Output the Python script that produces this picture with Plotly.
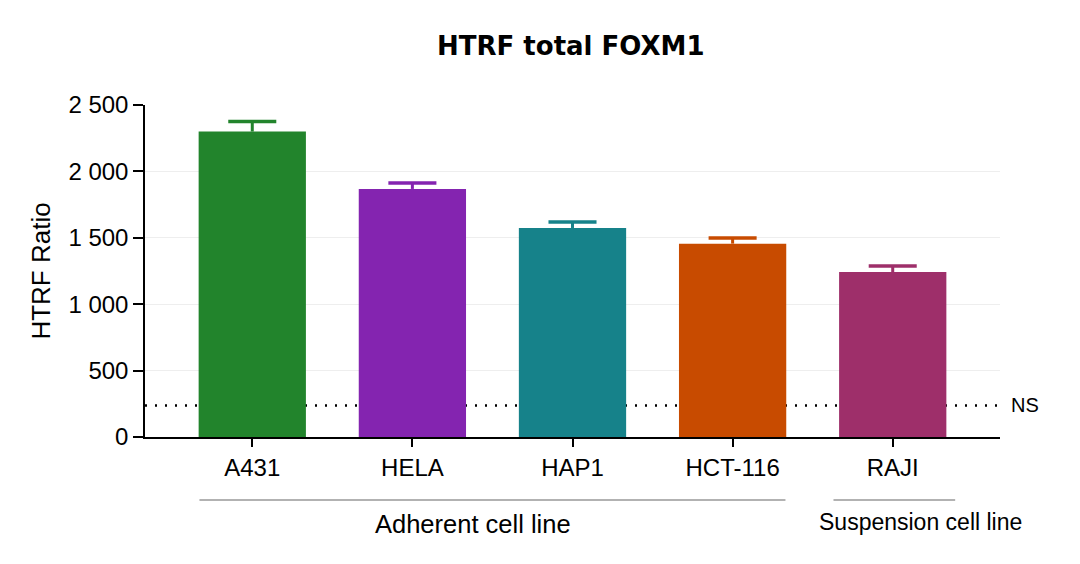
import plotly.graph_objects as go

cell_lines = ["A431", "HELA", "HAP1", "HCT-116", "RAJI"]
htrf_ratio = [2300, 1868, 1574, 1456, 1242]
sem = [76, 45, 45, 42, 45]
colors = ["#22842C", "#8424B0", "#16828A", "#C84B00", "#9E2F6A"]
ns_level = 238
groups = ["Adherent cell line", "Suspension cell line"]

x_pos = list(range(len(cell_lines)))

fig = go.Figure()

fig.add_trace(go.Bar(
    x=x_pos, y=htrf_ratio, width=0.67,
    marker=dict(color=colors, line=dict(width=0)), showlegend=False))

# upper error bars in the bar colour
for i, c in enumerate(colors):
    top = htrf_ratio[i] + sem[i]
    fig.add_trace(go.Scatter(
        x=[i, i], y=[htrf_ratio[i], top],
        mode="lines", line=dict(color=c, width=3), showlegend=False, hoverinfo="skip"))
    fig.add_trace(go.Scatter(
        x=[i - 0.15, i + 0.15], y=[top, top],
        mode="lines", line=dict(color=c, width=3.5), showlegend=False, hoverinfo="skip"))

# NS dotted line, kept under the bars
fig.add_shape(type="line", xref="paper", yref="y", x0=0, x1=1, y0=ns_level, y1=ns_level,
              layer="below", line=dict(color="black", width=2.5, dash="2px,8px"))
fig.add_annotation(x=1, y=ns_level, xref="paper", yref="y", text="NS", showarrow=False,
                   xanchor="left", xshift=9, font=dict(size=20, color="black"))

# group brackets under the categories
fig.add_shape(type="line", xref="x", yref="paper", x0=-0.33, x1=3.33, y0=-0.19, y1=-0.19,
              line=dict(color="#999999", width=1.5))
fig.add_shape(type="line", xref="x", yref="paper", x0=3.63, x1=4.39, y0=-0.19, y1=-0.19,
              line=dict(color="#999999", width=1.5))
fig.add_annotation(x=1.38, y=-0.262, xref="x", yref="paper", text=groups[0], showarrow=False,
                   yanchor="middle", font=dict(size=25.5, color="black"))
fig.add_annotation(x=4.175, y=-0.256, xref="x", yref="paper", text=groups[1], showarrow=False,
                   yanchor="middle", font=dict(size=23, color="black"))

# the page has an 8px body margin, so the figure is 8px smaller and shifted
fig.update_layout(
    width=1072, height=556,
    paper_bgcolor="white", plot_bgcolor="white",
    margin=dict(l=137, r=80, t=97, b=127),
    separators=". ",
    font=dict(family="Liberation Sans, Arial, sans-serif", color="black"),
    title=dict(text="<b>HTRF total FOXM1</b>", x=0.525, xanchor="center",
               y=0.932, yanchor="middle",
               font=dict(size=26, family="DejaVu Sans, sans-serif")),
    xaxis=dict(
        range=[-0.67, 4.67], tickmode="array", tickvals=x_pos,
        ticktext=cell_lines, ticks="outside", ticklen=8, tickwidth=1.5, tickcolor="black",
        showline=True, linecolor="black", linewidth=1.5, showgrid=False, zeroline=False,
        tickfont=dict(size=24),
    ),
    yaxis=dict(
        range=[0, 2500], tickvals=[0, 500, 1000, 1500, 2000, 2500], tickformat=",d",
        ticks="outside", ticklen=10, tickwidth=1.5, tickcolor="black",
        showline=True, linecolor="black", linewidth=1.5,
        showgrid=True, gridcolor="#EEEEEE", gridwidth=1, zeroline=False,
        tickfont=dict(size=24),
        title=dict(text="HTRF Ratio", font=dict(size=26), standoff=10),
    ),
)

fig.write_html("out.html")
